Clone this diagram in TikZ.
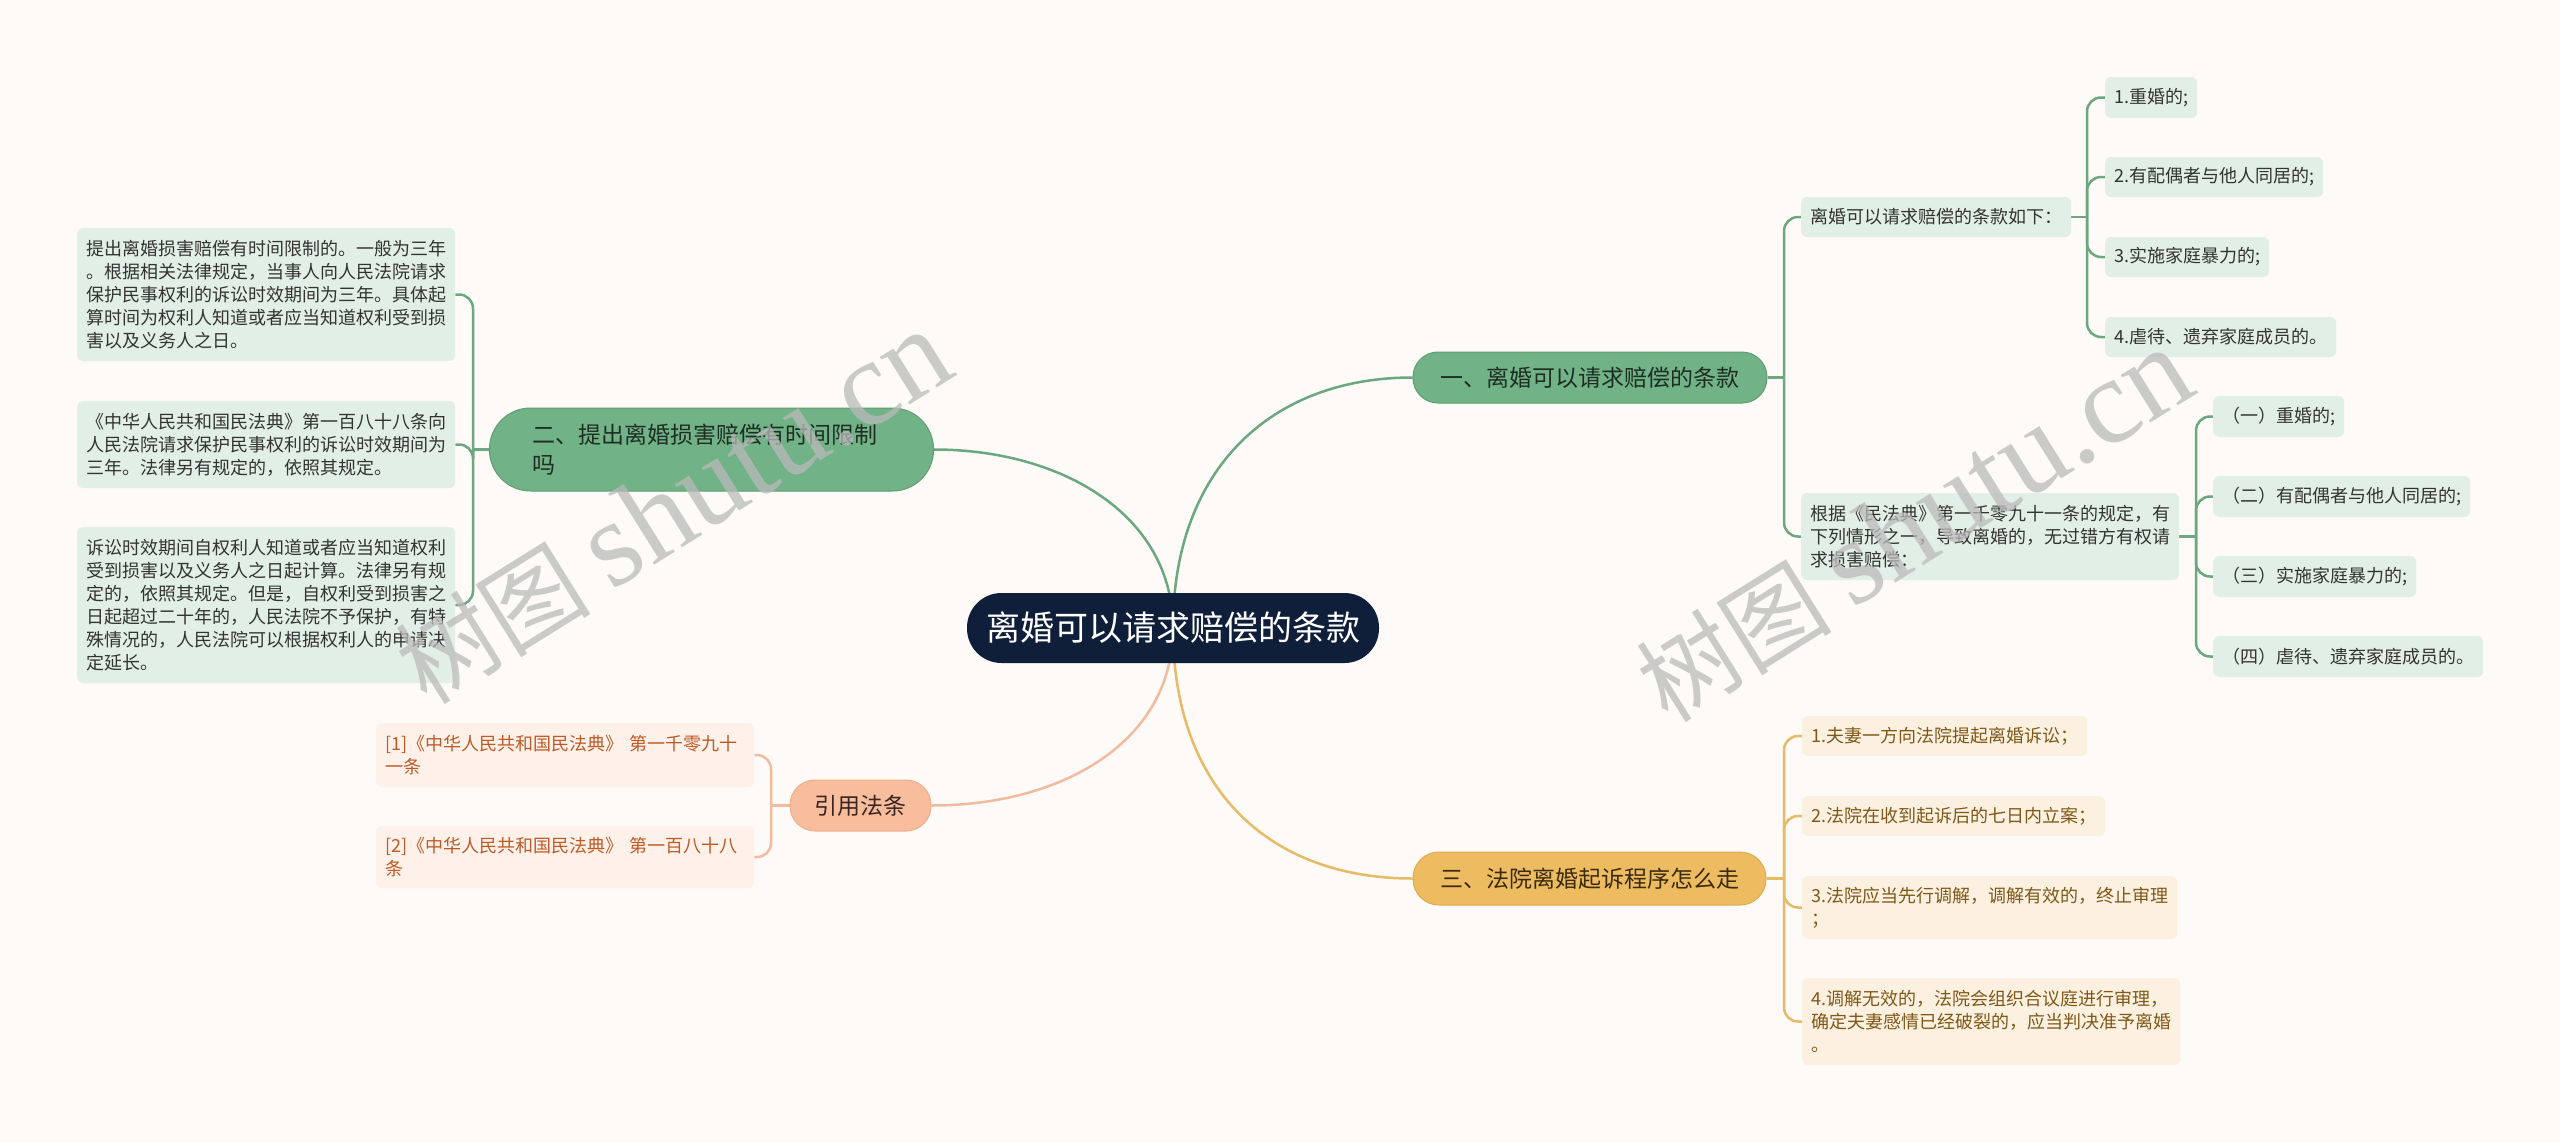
\documentclass[tikz,border=0pt]{standalone}
\usepackage{fontspec}
\setmainfont{Noto Sans CJK SC}
\newfontfamily\wmlatin{Liberation Serif}
\definecolor{bgc}{HTML}{FDFAF8}
\definecolor{rootfill}{HTML}{0F1F3A}
\definecolor{gfill}{HTML}{72B287}
\definecolor{gdraw}{HTML}{5F9E73}
\definecolor{gtext}{HTML}{1E2E24}
\definecolor{gleaf}{HTML}{E2EFE6}
\definecolor{gleaftext}{HTML}{333333}
\definecolor{gline}{HTML}{6CA77F}
\definecolor{ofill}{HTML}{EDBB60}
\definecolor{odraw}{HTML}{E0AA4E}
\definecolor{otext}{HTML}{3A2A10}
\definecolor{oleaf}{HTML}{FCF1E0}
\definecolor{oleaftext}{HTML}{7F5818}
\definecolor{oline}{HTML}{E6BA66}
\definecolor{pfill}{HTML}{F8BD9C}
\definecolor{pdraw}{HTML}{EFAE8A}
\definecolor{ptext}{HTML}{3A2520}
\definecolor{pleaf}{HTML}{FDF1EA}
\definecolor{pleaftext}{HTML}{BE5A26}
\definecolor{pline}{HTML}{F1BB9D}
\definecolor{wmc}{HTML}{BABABA}
\pgfdeclarelayer{bg}
\pgfsetlayers{bg,main}
\begin{document}
\begin{tikzpicture}[x=1pt,y=-1pt]
\tikzset{
  leaf/.style={rounded corners=6pt, inner xsep=9pt, inner ysep=0pt, align=left,
    font=\fontsize{18}{23}\selectfont, anchor=west},
  leafG/.style={leaf, fill=gleaf, text=gleaftext},
  leafO/.style={leaf, fill=oleaf, text=oleaftext},
  leafP/.style={leaf, fill=pleaf, text=pleaftext},
  mainbox/.style={inner sep=0pt, font=\fontsize{23}{30}\selectfont, line width=1pt},
  mainG/.style={mainbox, fill=gfill, draw=gdraw, text=gtext},
  mainO/.style={mainbox, fill=ofill, draw=odraw, text=otext},
  mainP/.style={mainbox, fill=pfill, draw=pdraw, text=ptext},
  conn/.style={line width=2.5pt},
  connG/.style={conn, draw=gline},
  connO/.style={conn, draw=oline},
  connP/.style={conn, draw=pline},
  bus/.style={rounded corners=14pt},
  wm/.style={rotate=32, text=wmc, opacity=0.75, inner sep=0pt}
}
\useasboundingbox (0,0) rectangle (2560,1143);

% root
\node[fill=rootfill, text=white, rounded corners=34.5pt, inner sep=0pt,
  minimum width=412pt, minimum height=70pt, font=\fontsize{34}{40}\selectfont]
  (root) at (1173,628) {离婚可以请求赔偿的条款};

% main branches
\node[mainG, rounded corners=25pt, minimum width=354pt, minimum height=51pt]
  (b1) at (1590,377.5) {一、离婚可以请求赔偿的条款};
\node[mainG, rounded corners=41pt, anchor=west, inner xsep=43pt, text width=358pt,
  align=left, minimum height=83pt] (b2) at (489,449.5)
  {二、提出离婚损害赔偿有时间限制\\吗};
\node[mainO, rounded corners=26pt, minimum width=353pt, minimum height=53pt]
  (b3) at (1589.5,878.5) {三、法院离婚起诉程序怎么走};
\node[mainP, rounded corners=25pt, minimum width=141pt, minimum height=51pt]
  (b4) at (860.5,805.5) {引用法条};

% branch 1 children
\node[leafG, minimum height=40pt] (a) at (1801,217) {离婚可以请求赔偿的条款如下：};
\node[leafG, minimum height=41pt] (a1) at (2105,97.5) {1.重婚的;};
\node[leafG, minimum height=40pt] (a2) at (2105,177) {2.有配偶者与他人同居的;};
\node[leafG, minimum height=40pt] (a3) at (2105,257) {3.实施家庭暴力的;};
\node[leafG, minimum height=40pt] (a4) at (2105,337) {4.虐待、遗弃家庭成员的。};

\node[leafG, minimum height=87pt] (b) at (1801,536.5)
  {根据《民法典》第一千零九十一条的规定，有\\下列情形之一，导致离婚的，无过错方有权请\\求损害赔偿：};
\node[leafG, minimum height=41pt] (bb1) at (2213,416.5) {（一）重婚的;};
\node[leafG, minimum height=41pt] (bb2) at (2213,496.5) {（二）有配偶者与他人同居的;};
\node[leafG, minimum height=41pt] (bb3) at (2213,576.5) {（三）实施家庭暴力的;};
\node[leafG, minimum height=41pt] (bb4) at (2213,656.5) {（四）虐待、遗弃家庭成员的。};

% branch 3 children
\node[leafO, minimum height=40pt] (c1) at (1802,736) {1.夫妻一方向法院提起离婚诉讼；};
\node[leafO, minimum height=40pt] (c2) at (1802,816) {2.法院在收到起诉后的七日内立案；};
\node[leafO, minimum height=63pt] (c3) at (1802,907.5) {3.法院应当先行调解，调解有效的，终止审理\\；};
\node[leafO, minimum height=87pt] (c4) at (1802,1021.5)
  {4.调解无效的，法院会组织合议庭进行审理，\\确定夫妻感情已经破裂的，应当判决准予离婚\\。};

% branch 2 children
\node[leafG, minimum height=133pt] (l1) at (77,294.5)
  {提出离婚损害赔偿有时间限制的。一般为三年\\。根据相关法律规定，当事人向人民法院请求\\保护民事权利的诉讼时效期间为三年。具体起\\算时间为权利人知道或者应当知道权利受到损\\害以及义务人之日。};
\node[leafG, minimum height=87pt] (l2) at (77,444.5)
  {《中华人民共和国民法典》第一百八十八条向\\人民法院请求保护民事权利的诉讼时效期间为\\三年。法律另有规定的，依照其规定。};
\node[leafG, minimum height=156pt] (l3) at (77,605)
  {诉讼时效期间自权利人知道或者应当知道权利\\受到损害以及义务人之日起计算。法律另有规\\定的，依照其规定。但是，自权利受到损害之\\日起超过二十年的，人民法院不予保护，有特\\殊情况的，人民法院可以根据权利人的申请决\\定延长。};

% references
\node[leafP, minimum height=64pt, text width=360pt] (r1) at (376,755)
  {[1]《中华人民共和国民法典》 第一千零九十\\一条};
\node[leafP, minimum height=62pt, text width=360pt] (r2) at (376,857)
  {[2]《中华人民共和国民法典》 第一百八十八\\条};

\begin{pgfonlayer}{bg}
\fill[bgc] (0,0) rectangle (2560,1143);
% root curves
\draw[connG] (root.center) .. controls (1173,470) and (1270,377.5) .. (b1.west);
\draw[connG] (root.center) .. controls (1173,515) and (1062,449.5) .. (b2.east);
\draw[connO] (root.center) .. controls (1173,790) and (1270,878.5) .. (b3.west);
\draw[connP] (root.center) .. controls (1173,742) and (1062,805.5) .. (b4.east);

% branch 1 buses
\coordinate (j1) at (1784,377.5);
\draw[connG] (b1.east) -- (j1);
\draw[connG, bus] (j1) -- (j1 |- a.west) -- (a.west);
\draw[connG, bus] (j1) -- (j1 |- b.west) -- (b.west);
\coordinate (ja) at (2087,217);
\draw[connG] (a.east) -- (ja);
\foreach \n in {a1,a2,a3,a4} \draw[connG, bus] (ja) -- (ja |- \n.west) -- (\n.west);
\coordinate (jb) at (2196,536.5);
\draw[connG] (b.east) -- (jb);
\foreach \n in {bb1,bb2,bb3,bb4} \draw[connG, bus] (jb) -- (jb |- \n.west) -- (\n.west);

% branch 3 bus
\coordinate (j3) at (1784,878.5);
\draw[connO] (b3.east) -- (j3);
\foreach \n in {c1,c2,c3,c4} \draw[connO, bus] (j3) -- (j3 |- \n.west) -- (\n.west);

% branch 2 bus
\coordinate (j2) at (473,449.5);
\draw[connG] (b2.west) -- (j2);
\foreach \n in {l1,l2,l3} \draw[connG, bus] (j2) -- (j2 |- \n.east) -- (\n.east);

% references bus
\coordinate (j4) at (771,805.5);
\draw[connP] (b4.west) -- (j4);
\foreach \n in {r1,r2} \draw[connP, bus] (j4) -- (j4 |- \n.east) -- (\n.east);
\end{pgfonlayer}

% watermarks
\node[wm, font=\fontsize{98}{100}\selectfont] (wm1) at (673,508)
  {树图 {\fontsize{122}{120}\wmlatin shutu.cn}};
\node[wm, font=\fontsize{98}{100}\selectfont] (wm2) at (1914,526)
  {树图 {\fontsize{122}{120}\wmlatin shutu.cn}};
\end{tikzpicture}
\end{document}
